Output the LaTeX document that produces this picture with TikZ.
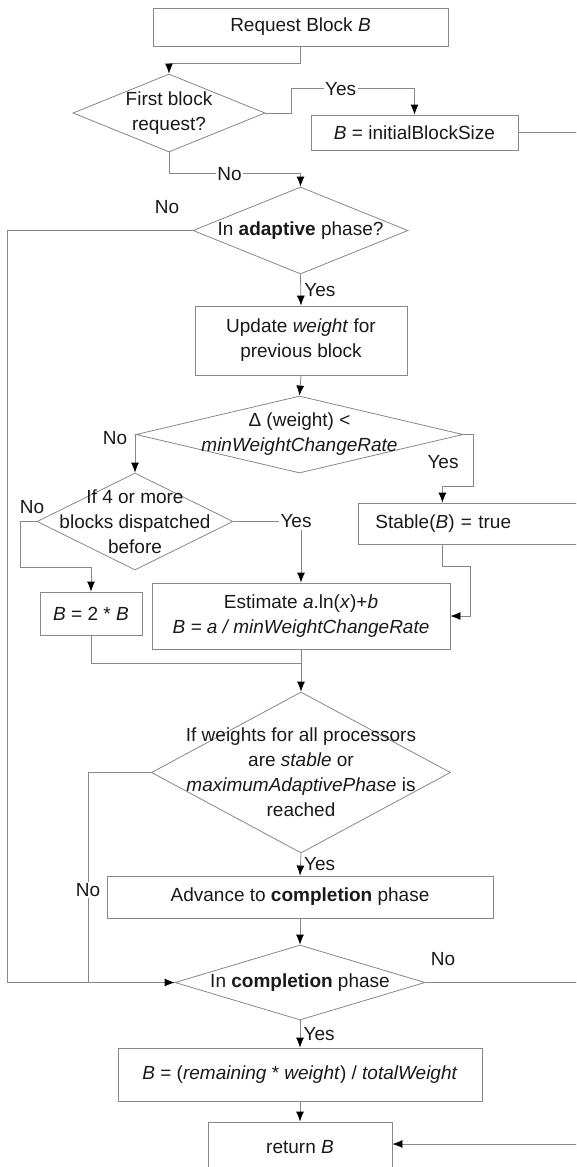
\documentclass[tikz,border=0pt]{standalone}
\usepackage{fontspec}
\setmainfont{Liberation Sans}
\usepackage{tikz}
\usetikzlibrary{shapes.geometric,arrows.meta}
\definecolor{linegray}{RGB}{135,135,135}
\definecolor{inkgray}{RGB}{25,25,25}

\begin{document}
\begin{tikzpicture}[x=1pt, y=-1pt, color=linegray, text=inkgray,
    font=\fontsize{19}{25}\selectfont, line width=0.8pt,
    >={Latex[length=10pt,width=8pt,color=black]},
    box/.style={draw, rectangle, inner sep=0pt, align=center},
    decision/.style={draw, diamond, inner sep=0pt},
    lab/.style={fill=white, inner sep=1.5pt}]
     \useasboundingbox (0,0) rectangle (576,1167);
     \clip (0,0) rectangle (576,1167);
     % blocks
     \node[box, minimum width=295, minimum height=38] (req) at (300.5,27) {Request Block \textit{B}};
     \node[decision, minimum width=192, minimum height=78] (first) at (169,113) {};
     \node[align=center] (first-t) at (first) {First block\\request?};
     \node[box, minimum width=207, minimum height=35] (init) at (414.5,132.5) {\textit{B} = initialBlockSize};
     \node[decision, minimum width=215, minimum height=87] (adapt) at (300.5,230.5) {};
     \node (adapt-t) at (adapt) {In \textbf{adaptive} phase?};
     \node[box, minimum width=212, minimum height=69] (upd) at (301,340.5) {Update \textit{weight} for\\previous block};
     \node[decision, minimum width=327, minimum height=77] (delta) at (299.5,434.5) {};
     \node[align=center] (delta-t) at (delta) {Δ (weight) <\\\textit{minWeightChangeRate}};
     \node[decision, minimum width=196, minimum height=97] (four) at (135,521.5) {};
     \node[align=center] (four-t) at (four) {If 4 or more\\blocks dispatched\\before};
     \node[box, minimum width=222, minimum height=41, anchor=west, text width=222, align=left] (stable) at (358,523.5) {\hspace*{17pt}Stable(\textit{B}) = true};
     \node[box, minimum width=102, minimum height=43] (dbl) at (91,613.5) {\textit{B} = 2 * \textit{B}};
     \node[box, minimum width=298, minimum height=66] (est) at (301,616) {Estimate \textit{a}.ln(\textit{x})+\textit{b}\\\textit{B = a / minWeightChangeRate}};
     \node[decision, minimum width=299, minimum height=161] (all) at (301,772.5) {};
     \node[align=center] (all-t) at (all) {If weights for all processors\\are \textit{stable} or\\\textit{maximumAdaptivePhase} is\\reached};
     \node[box, minimum width=386, minimum height=42] (adv) at (300,897) {Advance to \textbf{completion} phase};
     \node[decision, minimum width=250, minimum height=75] (compl) at (300,982.5) {};
     \node (compl-t) at (compl) {In \textbf{completion} phase};
     \node[box, minimum width=364, minimum height=53] (rem) at (300,1074.5) {\textit{B} = (\textit{remaining} * \textit{weight}) / \textit{totalWeight}};
     \node[box, minimum width=184, minimum height=50] (ret) at (300,1147) {return \textit{B}};
     % free ends
     \coordinate (initout) at (580,132.5);
     \coordinate (lft) at (7,230.5);
     \coordinate (mrg) at (301,663);
     \coordinate (joinno) at (88,982.5);
     \coordinate (complout) at (580,982.5);
     \coordinate (retin) at (580,1144);
     % connectors
     \draw[->] (req.south) -- ++(0,17) -| (first.north);
     \draw[->] (first.east) -- ++(26,0) |- node[lab, pos=0.7] {Yes} ([yshift=26pt]init.north) -- (init.north);
     \draw (init.east) -- (initout);
     \draw[->] (first.south) |- node[lab, pos=0.73] {No} ([yshift=13pt]adapt.north) -- (adapt.north);
     \draw[->] (adapt.west) -- (lft) |- (compl.west);
     \node (adapt-no) at (167,207) {No};
     \draw[->] (adapt.south) -- node[right] {Yes} (upd.north);
     \draw[->] (upd.south) -- (delta.north);
     \draw[->] (delta.west) -| (four.north);
     \node (delta-no) at (115,438) {No};
     \draw[->] (delta.east) -- ++(10,0) |- ([xshift=-27pt, yshift=16pt]stable.north) -- ([xshift=-27pt]stable.north);
     \node (delta-yes) at (443,462) {Yes};
     \draw[->] (four.west) -- ++(-16,0) |- ([yshift=24pt]dbl.north) -- (dbl.north);
     \node (four-no) at (32,507) {No};
     \draw[->] (four.east) -| node[lab, pos=0.5, xshift=-5pt] {Yes} (est.north);
     \draw[->] ([xshift=-27pt]stable.south) -- ++(0,22) -| ([xshift=20pt]est.east) -- (est.east);
     \draw (dbl.south) |- (mrg);
     \draw[->] (est.south) -- (all.north);
     \draw (all.west) -| node[lab, pos=0.78] {No} (joinno);
     \draw[->] (all.south) -- node[right] {Yes} (adv.north);
     \draw[->] (adv.south) -- (compl.north);
     \draw (compl.east) -- (complout);
     \node (compl-no) at (443,959) {No};
     \draw[->] (compl.south) -- node[right] {Yes} (rem.north);
     \draw[->] (rem.south) -- (ret.north);
     \draw[->] (retin) -- (retin -| ret.east);
\end{tikzpicture}
\end{document}
